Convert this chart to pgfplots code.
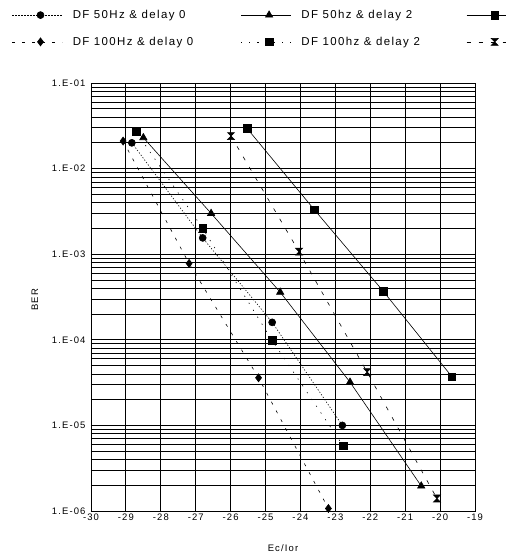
\documentclass[border=0pt]{standalone}
\usepackage{fontspec}
\setmainfont{Liberation Sans}
\newfontfamily\lgfont[LetterSpace=12]{Liberation Sans}
\newfontfamily\tkfont[LetterSpace=12]{Liberation Sans}
\usepackage{pgfplots}
\pgfplotsset{compat=1.18}
\pgfdeclareplotmark{hourglass}{%
  \pgfpathmoveto{\pgfqpoint{-\pgfplotmarksize}{\pgfplotmarksize}}%
  \pgfpathlineto{\pgfqpoint{\pgfplotmarksize}{\pgfplotmarksize}}%
  \pgfpathlineto{\pgfqpoint{-\pgfplotmarksize}{-\pgfplotmarksize}}%
  \pgfpathlineto{\pgfqpoint{\pgfplotmarksize}{-\pgfplotmarksize}}%
  \pgfpathclose\pgfusepathqfillstroke}
\begin{document}
\begin{tikzpicture}
\useasboundingbox (-91bp,-47bp) rectangle (415bp,511bp);
\begin{axis}[
  scale only axis, width=384bp, height=428bp,
  ymode=log, xmin=-30, xmax=-19, ymin=1e-6, ymax=1e-1,
  xtick={-30,-29,-28,-27,-26,-25,-24,-23,-22,-21,-20,-19},
  xticklabels={-30,-29,-28,-27,-26,-25,-24,-23,-22,-21,-20,-19},
  ytick={1e-6,1e-5,1e-4,1e-3,1e-2,1e-1},
  yticklabels={1.E-06,1.E-05,1.E-04,1.E-03,1.E-02,1.E-01},
  grid=both, minor x tick num=0,
  major grid style={black, line width=0.9bp},
  minor grid style={black, line width=0.7bp},
  major tick length=0pt, minor tick length=0pt,
  axis line style={black, line width=0.9bp},
  ticklabel style={font=\tkfont\fontsize{9.5}{11}\selectfont},
  yticklabel style={xshift=-2bp},
  xticklabel style={yshift=1bp},
  xlabel={Ec/Ior}, ylabel={BER},
  xlabel style={at={(axis description cs:0.5,-0.0864)}, anchor=center, font=\tkfont\fontsize{9.5}{11}\selectfont},
  ylabel style={at={(axis description cs:-0.146,0.493)}, anchor=center, font=\tkfont\fontsize{9.5}{11}\selectfont},
  legend columns=3,
  legend style={draw=none, fill=none, at={(0,1)}, anchor=north west, xshift=-79bp, yshift=73bp,
    font=\lgfont\fontsize{11.5}{13}\selectfont, row sep=17bp, inner sep=0pt,
    nodes={inner sep=0pt},
    /tikz/every odd column/.append style={column sep=10bp}},
  legend image code/.code={\draw[mark repeat=2,mark phase=2,#1] plot coordinates {(0bp,0bp) (28bp,0bp) (50bp,0bp)};},
  every axis plot/.append style={black, line width=0.6bp, mark options={solid, fill=black}},
]
\addplot[dash pattern=on 1.2bp off 1.8bp, mark=*, mark size=3.5bp] coordinates {(-28.83,2.0e-2) (-26.8,1.55e-3) (-24.81,1.6e-4) (-22.8,1.0e-5)};
\addlegendentry{\makebox[168bp][l]{DF 50Hz \& delay 0}}
\addplot[mark=triangle*, mark size=4.2bp] coordinates {(-28.5,2.3e-2) (-26.56,3.0e-3) (-24.58,3.6e-4) (-22.58,3.2e-5) (-20.54,1.96e-6)};
\addlegendentry{\makebox[165bp][l]{DF 50hz \& delay 2}}
\addplot[solid, mark=square*, mark size=3.8bp] coordinates {(-25.53,2.95e-2) (-23.6,3.3e-3) (-21.63,3.7e-4) (-19.66,3.7e-5)};
\addlegendentry{}
\addplot[dash pattern=on 3bp off 7bp, mark=diamond*, mark size=4bp] coordinates {(-29.08,2.1e-2) (-27.19,7.8e-4) (-25.2,3.6e-5) (-23.2,1.07e-6)};
\addlegendentry{\makebox[168bp][l]{DF 100Hz \& delay 0}}
\addplot[dash pattern=on 1.2bp off 7bp, mark=square*, mark size=3.8bp] coordinates {(-28.71,2.7e-2) (-26.8,2.0e-3) (-24.81,9.8e-5) (-22.78,5.8e-6)};
\addlegendentry{\makebox[165bp][l]{DF 100hz \& delay 2}}
\addplot[dash pattern=on 4bp off 8bp, mark=hourglass, mark size=3.5bp] coordinates {(-25.99,2.4e-2) (-24.04,1.07e-3) (-22.09,4.2e-5) (-20.09,1.4e-6)};
\addlegendentry{}
\end{axis}
\end{tikzpicture}
\end{document}
